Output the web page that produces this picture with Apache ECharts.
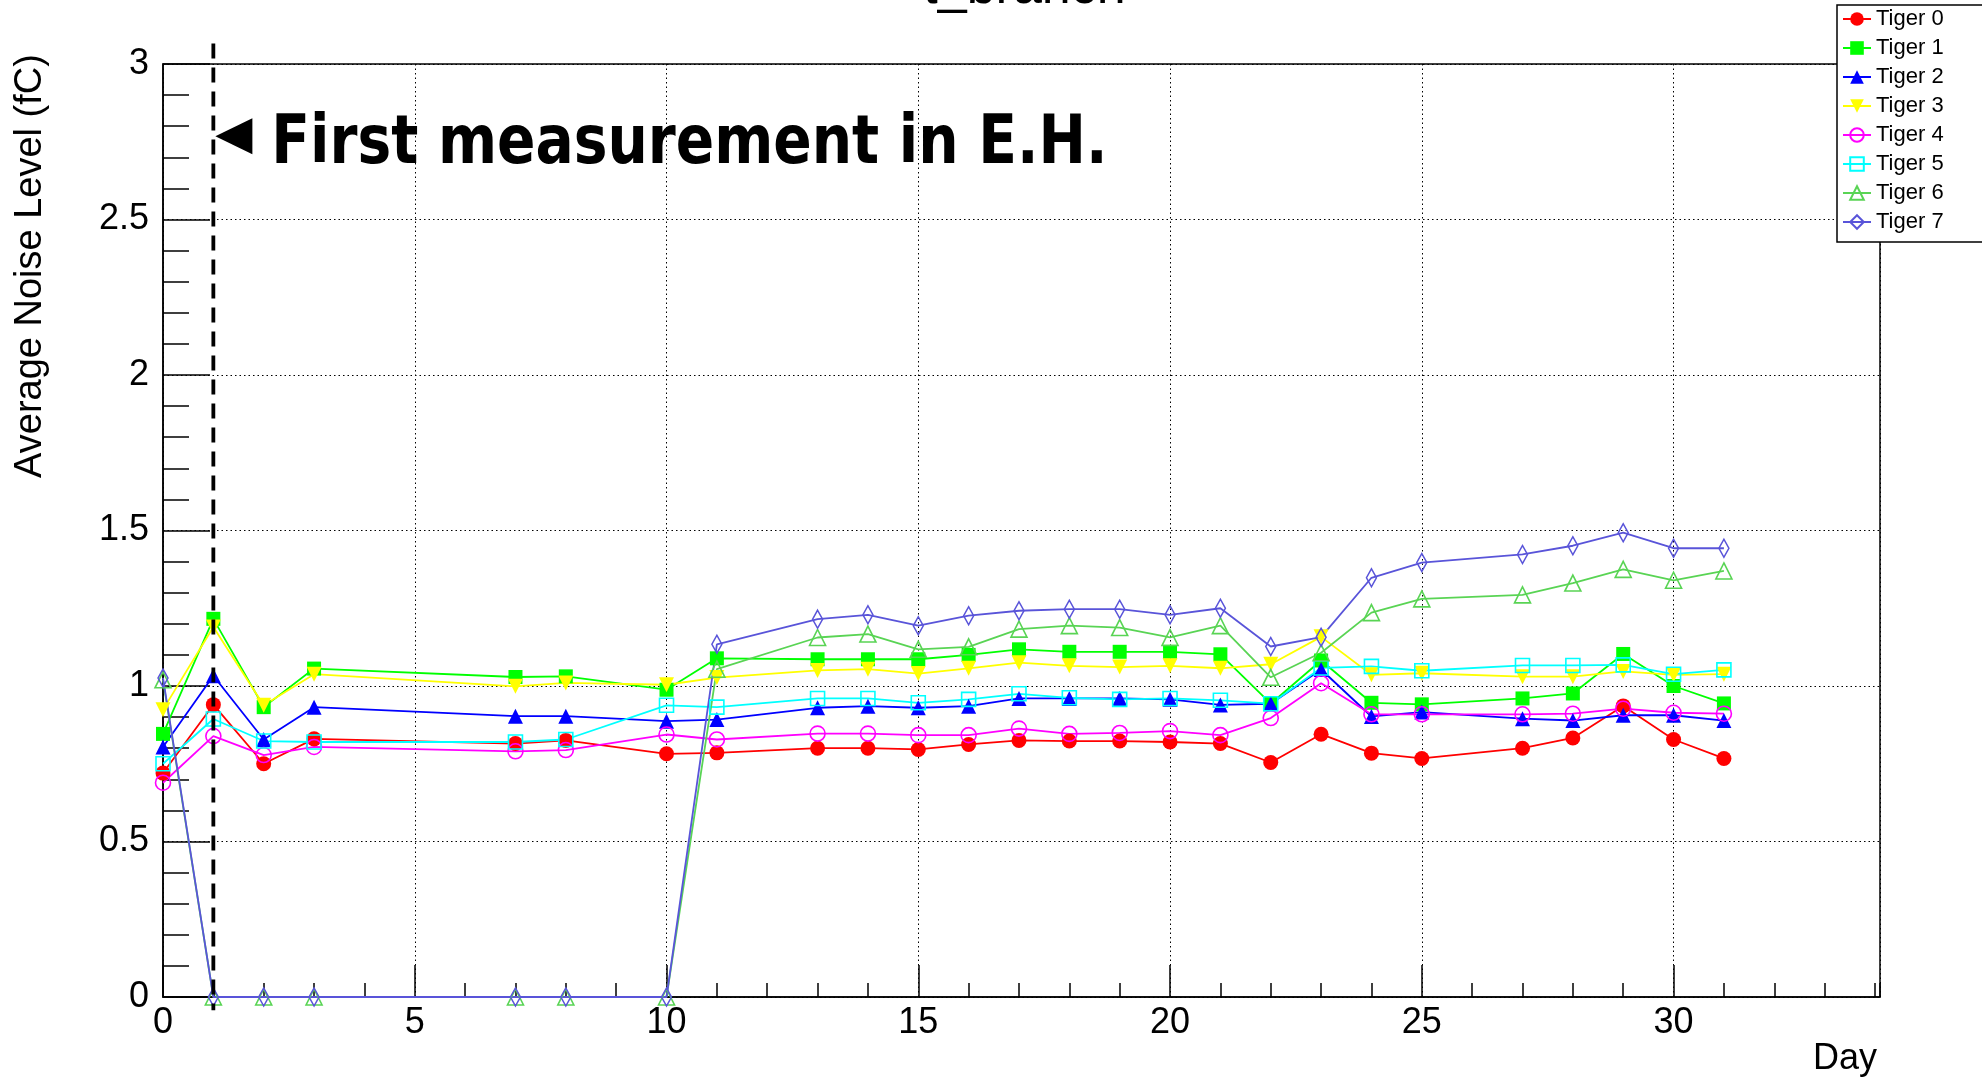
<!DOCTYPE html>
<html><head><meta charset="utf-8">
<script src="https://cdn.jsdelivr.net/npm/echarts@6/dist/echarts.min.js"></script>
<style>html,body{margin:0;padding:0;background:#fff}#c{width:1982px;height:1081px}</style>
</head><body><div id="c"></div>
<script>
// ---- data ----
const days = [0,1,2,3,7,8,10,11,13,14,15,16,17,18,19,20,21,22,23,24,25,27,28,29,30,31];
const tiger0 = [0.72,0.94,0.75,0.83,0.815,0.825,0.782,0.785,0.80,0.80,0.796,0.812,0.825,0.823,0.823,0.82,0.815,0.754,0.845,0.784,0.767,0.80,0.833,0.936,0.828,0.767];
const tiger1 = [0.846,1.216,0.932,1.056,1.029,1.031,0.988,1.089,1.086,1.086,1.086,1.10,1.118,1.11,1.11,1.11,1.102,0.943,1.082,0.946,0.941,0.96,0.976,1.103,1.0,0.944];
const tiger2 = [0.804,1.033,0.828,0.932,0.903,0.903,0.887,0.892,0.93,0.935,0.93,0.935,0.96,0.96,0.96,0.957,0.939,0.943,1.053,0.902,0.916,0.895,0.889,0.906,0.906,0.889];
const tiger3 = [0.924,1.19,0.938,1.038,0.999,1.01,1.004,1.027,1.05,1.054,1.04,1.057,1.075,1.065,1.061,1.065,1.057,1.07,1.158,1.036,1.041,1.03,1.03,1.047,1.036,1.038];
const tiger4 = [0.689,0.839,0.778,0.804,0.79,0.794,0.844,0.828,0.847,0.847,0.842,0.842,0.863,0.846,0.849,0.855,0.842,0.897,1.009,0.909,0.909,0.909,0.911,0.927,0.914,0.911];
const tiger5 = [0.75,0.894,0.823,0.82,0.82,0.828,0.938,0.932,0.96,0.96,0.946,0.957,0.975,0.962,0.957,0.96,0.954,0.943,1.058,1.063,1.049,1.066,1.066,1.068,1.038,1.052];
const tiger6 = [1.02,0,0,0,0,0,0,1.054,1.156,1.167,1.118,1.126,1.183,1.194,1.188,1.156,1.194,1.028,1.107,1.236,1.28,1.293,1.331,1.375,1.34,1.37];
const tiger7 = [1.026,0,0,0,0,0,0,1.134,1.215,1.229,1.194,1.226,1.242,1.247,1.247,1.229,1.25,1.127,1.157,1.348,1.397,1.423,1.451,1.493,1.443,1.443];
const seriesNames = ['Tiger 0','Tiger 1','Tiger 2','Tiger 3','Tiger 4','Tiger 5','Tiger 6','Tiger 7'];
const seriesValues = [tiger0,tiger1,tiger2,tiger3,tiger4,tiger5,tiger6,tiger7];
const titleText = 't_branch';
const xTitle = 'Day';
const yTitle = 'Average Noise Level (fC)';
const annotationText = 'First measurement in E.H.';
const annotationDay = 1;
const xMin = 0, xMax = 34.1, yMin = 0, yMax = 3;

// ---- styles ----
const styles = [
  {color:'#ff0000', symbol:'circle', size:15, open:false},
  {color:'#00ff00', symbol:'rect', size:14, open:false},
  {color:'#0000ff', symbol:'triangle', size:15, open:false},
  {color:'#ffff00', symbol:'path://M0,0L2,0L1,1.732Z', size:15, open:false},
  {color:'#ff00ff', symbol:'circle', size:15, open:true},
  {color:'#00ffff', symbol:'rect', size:14, open:true},
  {color:'#59d454', symbol:'triangle', size:16, open:true},
  {color:'#5954d9', symbol:'diamond', size:[10,18], open:true}
];
const FONT = 'Liberation Sans';

const series = seriesNames.map((name, i) => {
  const st = styles[i];
  return {
    name, type:'line', xAxisIndex:0, yAxisIndex:0,
    data: days.map((d, k) => [d, seriesValues[i][k]]),
    symbol: st.symbol, symbolSize: st.size, showSymbol:true,
    lineStyle:{color:st.color, width:1.8},
    itemStyle: st.open ? {color:'rgba(0,0,0,0)', borderColor:st.color, borderWidth:1.6}
                       : {color:st.color, borderWidth:0},
    emphasis:{disabled:true}, silent:true, animation:false, clip:false
  };
});

const chart = echarts.init(document.getElementById('c'), null, {renderer:'canvas'});
const option = {
  animation:false,
  backgroundColor:'#fff',
  grid:{left:163, right:102, top:64, bottom:84, show:true, borderColor:'#000', borderWidth:1.5, backgroundColor:'rgba(0,0,0,0)'},
  legend:{
    data: seriesNames, orient:'vertical', left:1837, top:5,
    padding:[3,60,9,5], itemGap:7, itemWidth:28, itemHeight:17,
    backgroundColor:'#fff', borderColor:'#000', borderWidth:1.5, borderRadius:0,
    textStyle:{fontFamily:FONT, fontSize:22, color:'#000', lineHeight:22},
    selectedMode:false
  },
  xAxis:[{
    type:'value', min:xMin, max:xMax, interval:5,
    axisLine:{show:true, onZero:false, lineStyle:{color:'#000', width:1.5}},
    axisTick:{show:true, inside:true, length:32, lineStyle:{color:'#000', width:1.5}},
    axisLabel:{fontFamily:FONT, fontSize:36, color:'#000', margin:8, showMaxLabel:false},
    splitLine:{show:true, lineStyle:{type:[1.5,3], color:'#000', width:1}}
  },{
    type:'value', position:'bottom', min:xMin, max:xMax, interval:1,
    axisLine:{show:false, onZero:false},
    axisTick:{show:true, inside:true, length:14, lineStyle:{color:'#000', width:1.5}},
    axisLabel:{show:false}, splitLine:{show:false}
  }],
  yAxis:{
    type:'value', min:yMin, max:yMax, interval:0.5,
    axisLine:{show:true, onZero:false, lineStyle:{color:'#000', width:1.5}},
    axisTick:{show:true, inside:true, length:47, lineStyle:{color:'#000', width:1.5}},
    minorTick:{show:true, splitNumber:5, length:26, lineStyle:{color:'#000', width:1.5}},
    axisLabel:{fontFamily:FONT, fontSize:36, color:'#000', margin:14},
    splitLine:{show:true, lineStyle:{type:[1.5,3], color:'#000', width:1}}
  },
  series
};
chart.setOption(option);

// annotations positioned from data coordinates
const px = (x, y) => chart.convertToPixel({gridIndex:0}, [x, y]);
const lineTop = px(annotationDay, 3.066);
const lineBot = px(annotationDay, -0.043);
const tip = px(annotationDay, 2.768);
const gLeft = px(xMin, 0)[0], gRight = px(xMax, 0)[0];
const gTop = px(0, yMax)[1], gBot = px(0, yMin)[1];

chart.setOption({
  graphic:[
    {type:'line', shape:{x1:lineTop[0], y1:lineTop[1], x2:lineBot[0], y2:lineBot[1]},
     style:{stroke:'#000', lineWidth:3.8, lineDash:[15,9]}, z:100, silent:true},
    {type:'polygon', shape:{points:[[tip[0]+2, tip[1]],[tip[0]+39, tip[1]-18],[tip[0]+39, tip[1]+18]]},
     style:{fill:'#000'}, z:100, silent:true},
    {type:'text', x:tip[0]+58, y:tip[1]+9, scaleX:0.94, silent:true, z:100,
     style:{text:annotationText, fontFamily:'DejaVu Sans Condensed', fontWeight:'bold', fontSize:67, fill:'#000', align:'left', verticalAlign:'middle'}},
    {type:'text', x:(gLeft+gRight)/2+3, y:-11, silent:true,
     style:{text:titleText, fontFamily:FONT, fontSize:52, fill:'#000', align:'center', verticalAlign:'middle'}},
    {type:'text', x:gRight-3, y:gBot+62, silent:true,
     style:{text:xTitle, fontFamily:FONT, fontSize:36, fill:'#000', align:'right', verticalAlign:'middle'}},
    {type:'text', x:31, y:gTop+202, rotation:Math.PI/2, silent:true,
     style:{text:yTitle, fontFamily:FONT, fontSize:38, fill:'#000', align:'center', verticalAlign:'middle'}}
  ]
});
</script></body></html>
